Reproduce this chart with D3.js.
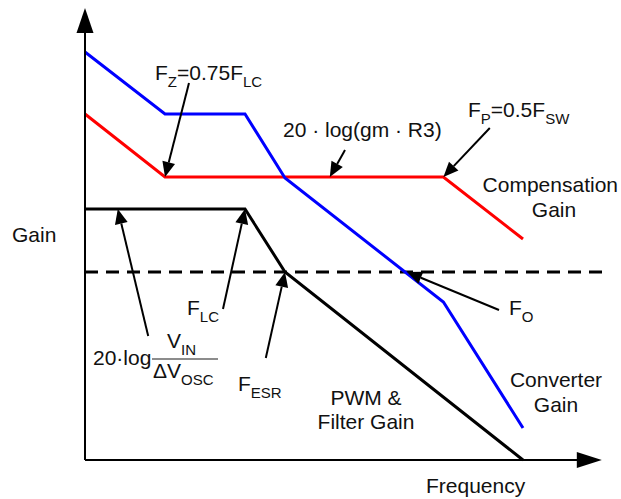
<!DOCTYPE html>
<html>
<head>
<meta charset="utf-8">
<script src="https://cdn.jsdelivr.net/npm/d3@7"></script>
<style>
  html, body { margin: 0; padding: 0; background: #fff; }
  svg { display: block; }
  text { font-family: "Liberation Sans", Arial, sans-serif; fill: #111; }
</style>
</head>
<body>
<svg id="chart" width="621" height="499"></svg>
<script>
// ---- Data (arbitrary frequency units on x, gain units on y) ----
const converterFreq = [0, 10, 20, 25, 44.8, 54.75];
const converterGain = [102, 86.5, 86.5, 70.5, 39.5, 8];

const compensationFreq = [0, 10, 25, 44.8, 54.75];
const compensationGain = [86.5, 70.75, 70.75, 70.75, 55.25];

const pwmFreq = [0, 20, 25, 54.75];
const pwmGain = [62.75, 62.75, 47, 0];

const zeroDbGain = 47;          // dashed crossover level
const zeroDbRange = [0, 65.1];

const axisEnd = { x: 64.6, y: 113 };

// annotation arrows: [tailX, tailY, headX, headY]
const annotArrows = [
  [13, 94.25, 10, 70.75],      // Fz
  [32.5, 77.5, 30.6, 70.75],   // 20 log(gm R3)
  [50.6, 83, 44.8, 70.75],     // Fp
  [51.75, 37.5, 40.25, 47],    // Fo
  [7.9, 31, 4.1, 62.75],       // 20 log Vin/dVosc
  [17.25, 37.75, 20, 62.75],   // Flc
  [22.6, 25.5, 25, 47]         // Fesr
];

// ---- Scales ----
const x = d3.scaleLinear().domain([0, 55]).range([85, 525]);
const y = d3.scaleLinear().domain([0, 100]).range([460, 60]);

const svg = d3.select("#chart");

const line = d3.line().x(d => x(d[0])).y(d => y(d[1]));

// dashed 0 dB line
svg.append("line")
  .attr("x1", x(zeroDbRange[0])).attr("x2", x(zeroDbRange[1]))
  .attr("y1", y(zeroDbGain)).attr("y2", y(zeroDbGain))
  .attr("stroke", "#000").attr("stroke-width", 3)
  .attr("stroke-dasharray", "13,8");

// series
svg.append("path").datum(d3.zip(pwmFreq, pwmGain))
  .attr("d", line).attr("fill", "none").attr("stroke", "#000").attr("stroke-width", 3);
svg.append("path").datum(d3.zip(compensationFreq, compensationGain))
  .attr("d", line).attr("fill", "none").attr("stroke", "#ff0000").attr("stroke-width", 3);
svg.append("path").datum(d3.zip(converterFreq, converterGain))
  .attr("d", line).attr("fill", "none").attr("stroke", "#0000ff").attr("stroke-width", 3);

// axes with arrowheads
const x0 = x(0), y0 = y(0);
svg.append("line").attr("x1", x0).attr("y1", y0).attr("x2", x0).attr("y2", y(axisEnd.y) + 22)
  .attr("stroke", "#000").attr("stroke-width", 2);
svg.append("line").attr("x1", x0).attr("y1", y0).attr("x2", x(axisEnd.x) - 22).attr("y2", y0)
  .attr("stroke", "#000").attr("stroke-width", 2);
const yt = y(axisEnd.y);
svg.append("path").attr("d", `M${x0},${yt} L${x0 - 8.5},${yt + 25} L${x0 + 8.5},${yt + 25} Z`).attr("fill", "#000");
const xt = x(axisEnd.x);
svg.append("path").attr("d", `M${xt},${y0} L${xt - 25},${y0 - 8} L${xt - 25},${y0 + 8} Z`).attr("fill", "#000");

// annotation arrows
annotArrows.forEach(a => {
  const x1 = x(a[0]), y1 = y(a[1]), x2 = x(a[2]), y2 = y(a[3]);
  const ang = Math.atan2(y2 - y1, x2 - x1);
  const L = 15, W = 6.5;
  const bx = x2 - L * Math.cos(ang), by = y2 - L * Math.sin(ang);
  svg.append("line").attr("x1", x1).attr("y1", y1).attr("x2", bx).attr("y2", by)
    .attr("stroke", "#000").attr("stroke-width", 2);
  const px = -Math.sin(ang) * W, py = Math.cos(ang) * W;
  svg.append("path")
    .attr("d", `M${x2},${y2} L${bx + px},${by + py} L${bx - px},${by - py} Z`)
    .attr("fill", "#000");
});

// ---- Text ----
const FS = 21, SS = 15, SUB = 7;
function label(xp, yp, parts, anchor) {
  const t = svg.append("text").attr("x", xp).attr("y", yp)
    .attr("font-size", FS).attr("text-anchor", anchor || "start");
  let shifted = false;
  parts.forEach(p => {
    const s = t.append("tspan").text(p[0]);
    if (p[1] === "sub") {
      s.attr("font-size", SS);
      if (!shifted) { s.attr("dy", SUB); shifted = true; }
    } else {
      if (shifted) { s.attr("dy", -SUB); shifted = false; }
    }
  });
  return t;
}

label(155, 80, [["F"], ["Z", "sub"], ["=0.75F"], ["LC", "sub"]]);
label(283, 137, [["20 · log(gm · R3)"]]);
label(468, 117, [["F"], ["P", "sub"], ["=0.5F"], ["SW", "sub"]]);
label(618, 192, [["Compensation"]], "end");
label(554, 217, [["Gain"]], "middle");
label(12, 242, [["Gain"]]);
label(187, 315, [["F"], ["LC", "sub"]]);
label(238, 391, [["F"], ["ESR", "sub"]]);
label(509, 315, [["F"], ["O", "sub"]]);
label(556, 387, [["Converter"]], "middle");
label(556, 412, [["Gain"]], "middle");
label(366, 405, [["PWM &"]], "middle");
label(366, 429, [["Filter Gain"]], "middle");
label(426, 493, [["Frequency"]]);

// 20·log Vin / dVosc fraction
label(93, 365, [["20·log"]]);
svg.append("line").attr("x1", 152).attr("x2", 218).attr("y1", 359).attr("y2", 359)
  .attr("stroke", "#666").attr("stroke-width", 1.5);
label(167, 348, [["V"], ["IN", "sub"]]);
label(153, 378, [["ΔV"], ["OSC", "sub"]]);
</script>
</body>
</html>
